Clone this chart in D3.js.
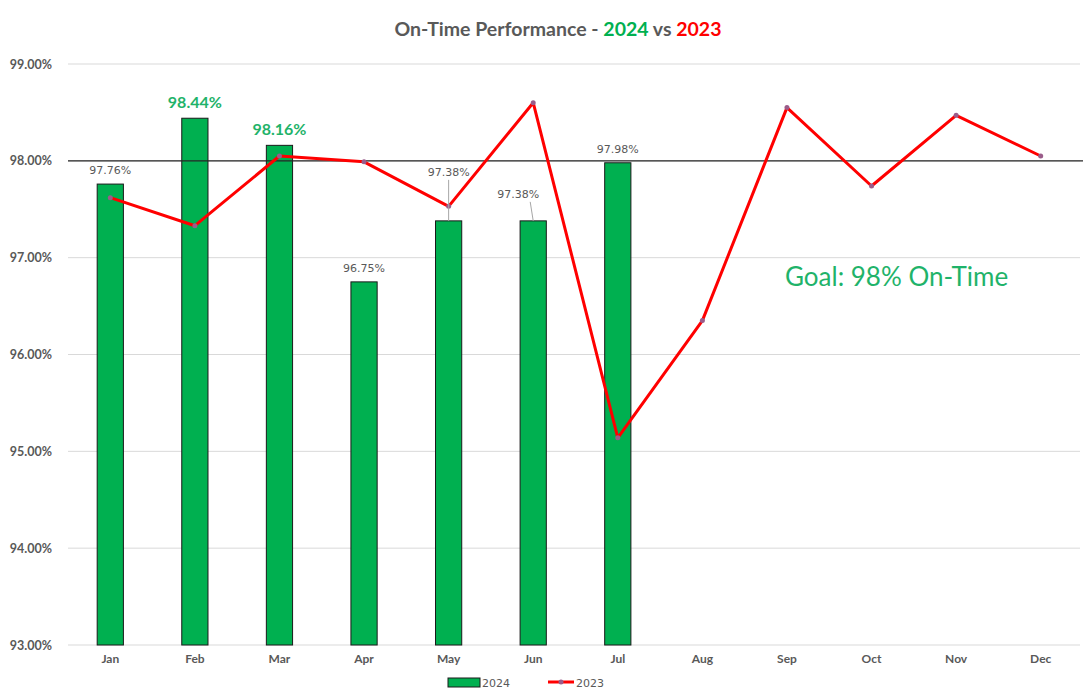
<!DOCTYPE html>
<html>
<head>
<meta charset="utf-8">
<title>On-Time Performance</title>
<script src="https://cdn.jsdelivr.net/npm/d3@7"></script>
<style>
body { margin: 0; background: #fff; }
svg { font-family: Lato, "Open Sans", sans-serif; }
</style>
</head>
<body>
<script>
  // data
  var months = ["Jan", "Feb", "Mar", "Apr", "May", "Jun", "Jul", "Aug", "Sep", "Oct", "Nov", "Dec"];
  var values2024 = [97.76, 98.44, 98.16, 96.75, 97.38, 97.38, 97.98];
  var values2023 = [97.62, 97.33, 98.05, 97.99, 97.53, 98.60, 95.14, 96.35, 98.55, 97.74, 98.47, 98.05];
  var yTicks = [93, 94, 95, 96, 97, 98, 99];
  var goal = 98;
  // labels that are highlighted (bold green)
  var bigLabels = ["Feb", "Mar"];

  var width = 1083, height = 691;
  var margin = { top: 64, right: 0, bottom: 46, left: 68 };

  var svg = d3.select("body").append("svg").attr("width", width).attr("height", height);

  var x = d3.scaleBand().domain(months).range([margin.left, width - margin.right]).padding(0);
  var y = d3.scaleLinear().domain([93, 99]).range([height - margin.bottom, margin.top]);

  // title
  var title = svg.append("text")
    .attr("x", 558).attr("y", 36)
    .attr("text-anchor", "middle")
    .attr("font-size", "19.5px").attr("font-weight", "bold")
    .attr("fill", "#595959");
  title.append("tspan").text("On-Time Performance - ");
  title.append("tspan").attr("fill", "#00b050").text("2024");
  title.append("tspan").text(" vs ");
  title.append("tspan").attr("fill", "#ff0000").text("2023");

  // grid
  svg.append("g").selectAll("line")
    .data(yTicks)
    .enter().append("line")
    .attr("x1", margin.left).attr("x2", width - 3)
    .attr("y1", function(d) { return y(d); }).attr("y2", function(d) { return y(d); })
    .attr("stroke", "#d9d9d9").attr("stroke-width", 1);

  // y axis labels
  var yAxis = svg.append("g")
    .attr("transform", "translate(" + (margin.left - 13) + ",0)")
    .call(d3.axisLeft(y).tickValues(yTicks).tickSize(0).tickFormat(function(d) { return d.toFixed(2) + "%"; }));
  yAxis.select(".domain").remove();
  yAxis.selectAll("text")
    .attr("font-family", "Lato, sans-serif")
    .attr("font-size", "12.5px").attr("font-weight", "bold").attr("fill", "#595959");

  // x axis labels
  var xAxis = svg.append("g")
    .attr("transform", "translate(0," + (height - margin.bottom + 6) + ")")
    .call(d3.axisBottom(x).tickSize(0));
  xAxis.select(".domain").remove();
  xAxis.selectAll("text")
    .attr("font-family", "Lato, sans-serif")
    .attr("font-size", "12px").attr("font-weight", "bold").attr("fill", "#595959");

  // bars 2024
  var bw = x.bandwidth() * 0.31;
  svg.append("g").selectAll("rect")
    .data(values2024)
    .enter().append("rect")
    .attr("x", function(d, i) { return x(months[i]) + x.bandwidth() / 2 - bw / 2; })
    .attr("y", function(d) { return y(d); })
    .attr("width", bw)
    .attr("height", function(d) { return y(93) - y(d); })
    .attr("fill", "#00b050")
    .attr("stroke", "#1a1a1a").attr("stroke-width", 1);

  // goal line
  svg.append("line")
    .attr("x1", margin.left).attr("x2", width)
    .attr("y1", y(goal)).attr("y2", y(goal))
    .attr("stroke", "#262626").attr("stroke-width", 1.3);

  // line 2023
  var line = d3.line()
    .x(function(d, i) { return x(months[i]) + x.bandwidth() / 2; })
    .y(function(d) { return y(d); });

  svg.append("path")
    .datum(values2023)
    .attr("d", line)
    .attr("fill", "none")
    .attr("stroke", "#ff0000").attr("stroke-width", 3)
    .attr("stroke-linejoin", "round");

  svg.append("g").selectAll("circle")
    .data(values2023)
    .enter().append("circle")
    .attr("cx", function(d, i) { return x(months[i]) + x.bandwidth() / 2; })
    .attr("cy", function(d) { return y(d); })
    .attr("r", 2.5)
    .attr("fill", "#9a5c8a");

  // data labels 2024 (offset per label, May/Jun have leader lines)
  var labelOffset = { "May": [0, -45], "Jun": [-15, -23] };
  var labels = svg.append("g");
  values2024.forEach(function(d, i) {
    var m = months[i];
    var cx = x(m) + x.bandwidth() / 2;
    var big = bigLabels.indexOf(m) >= 0;
    var off = labelOffset[m] || [0, -10];
    if (labelOffset[m]) {
      labels.append("line")
        .attr("x1", cx + off[0] + (m === "Jun" ? 12 : 0)).attr("y1", y(d) + off[1] + 4)
        .attr("x2", cx).attr("y2", y(d))
        .attr("stroke", "#a6a6a6").attr("stroke-width", 1);
    }
    labels.append("text")
      .attr("x", cx + off[0]).attr("y", y(d) + off[1])
      .attr("text-anchor", "middle")
      .attr("font-family", big ? "Lato, sans-serif" : "'DejaVu Sans', sans-serif")
      .attr("font-size", big ? "16px" : "11px")
      .attr("font-weight", big ? "bold" : "normal")
      .attr("fill", big ? "#1fb36a" : "#595959")
      .text(d.toFixed(2) + "%");
  });

  // goal text
  svg.append("text")
    .attr("x", 785).attr("y", 286)
    .attr("font-size", "26px")
    .attr("fill", "#1fb36a")
    .text("Goal: " + goal + "% On-Time");

  // legend
  var lg = svg.append("g").attr("font-family", "'DejaVu Sans', sans-serif").attr("font-size", "11px").attr("fill", "#595959");
  lg.append("rect").attr("x", 448).attr("y", 678).attr("width", 32).attr("height", 9)
    .attr("fill", "#00b050").attr("stroke", "#1a1a1a").attr("stroke-width", 1);
  lg.append("text").attr("x", 482).attr("y", 687).text("2024");
  lg.append("line").attr("x1", 548).attr("x2", 574).attr("y1", 682).attr("y2", 682)
    .attr("stroke", "#ff0000").attr("stroke-width", 3);
  lg.append("circle").attr("cx", 561).attr("cy", 682).attr("r", 2.5).attr("fill", "#9a5c8a");
  lg.append("text").attr("x", 576).attr("y", 687).text("2023");
</script>
</body>
</html>
